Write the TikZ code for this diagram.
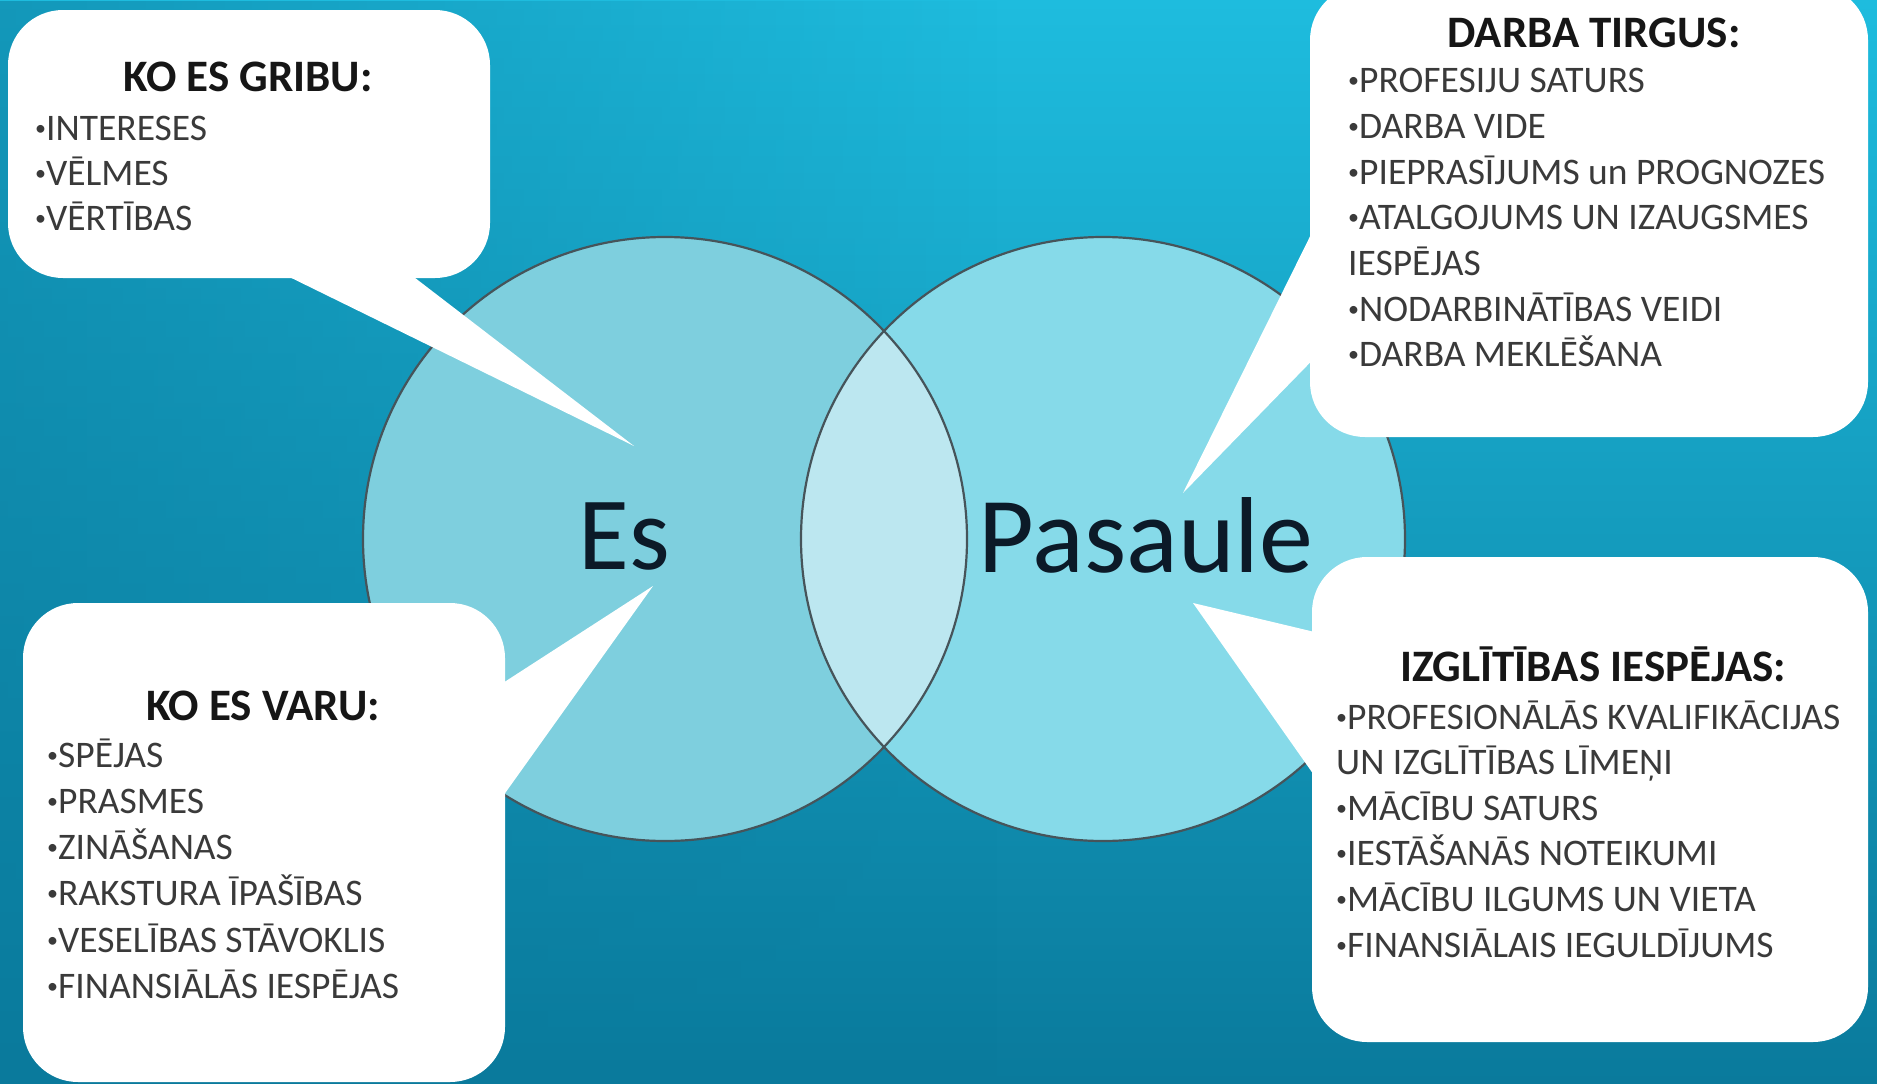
\documentclass[tikz,border=0pt]{standalone}
\usepackage{fontspec}
\setmainfont{Carlito}
\usetikzlibrary{positioning,fadings}

\definecolor{sfondoTop}{RGB}{30,188,222}
\definecolor{sfondoBot}{RGB}{10,122,156}
\definecolor{cerchioSx}{RGB}{126,207,222}
\definecolor{cerchioDx}{RGB}{134,218,233}
\definecolor{lente}{RGB}{188,231,240}
\definecolor{bordo}{RGB}{70,84,90}
\definecolor{grigio}{RGB}{58,58,58}
\definecolor{titolo}{RGB}{22,22,22}
\definecolor{scritta}{RGB}{12,26,40}

\tikzfading[name=sfumaSx, left color=transparent!0, right color=transparent!100]
\newcommand\punto{\raisebox{5pt}{\fontsize{22}{22}\selectfont•}}

\tikzset{
	fumetto/.style={fill=white, rounded corners=55pt, inner sep=0pt},
	testata/.style={font=\bfseries\fontsize{45}{45}\selectfont, text=titolo, anchor=base, inner sep=0pt},
	elenco/.style={font=\fontsize{37.5}{37.5}\selectfont, text=grigio, anchor=base west, inner sep=0pt},
	grande/.style={font=\fontsize{104}{104}\selectfont, text=scritta, anchor=base, inner sep=0pt}
}

\begin{document}
\begin{tikzpicture}[x=1pt,y=-1pt]
		\useasboundingbox (0,0) rectangle (1877,1084);
		\clip (0,0) rectangle (1877,1084);
		% sfondo
		\shade[top color=sfondoTop, bottom color=sfondoBot] (0,0) rectangle (1877,1084);
		\fill[sfondoBot, path fading=sfumaSx, opacity=0.55] (0,0) rectangle (1000,1084);
		% cerchi
		\fill[cerchioSx] (665,539) circle (302);
		\fill[cerchioDx] (1103,539) circle (302);
		\begin{scope}
			\clip (665,539) circle (302);
			\fill[lente] (1103,539) circle (302);
		\end{scope}
		\draw[bordo, line width=2.2pt] (665,539) circle (302);
		\draw[bordo, line width=2.2pt] (1103,539) circle (302);
		\node[grande] (es) at (624,569) {Es};
		\node[grande, font=\fontsize{108}{108}\selectfont] (pasaule) at (1146,572) {Pasaule};
		% punte dei fumetti
		\coordinate (puntaGribu) at (634,446);
		\coordinate (puntaVaru) at (653,586);
		\coordinate (puntaTirgus) at (1183,493);
		\coordinate (puntaIzgl) at (1193,603);
		% fumetti
		\node[fumetto, minimum width=482pt, minimum height=268pt] (gribu) at (249,144) {};
		\fill[white] ([xshift=280pt,yshift=2pt]gribu.south west) -- (puntaGribu) -- ([xshift=405pt,yshift=2pt]gribu.south west) -- cycle;
		\node[fumetto, minimum width=482pt, minimum height=479pt] (varu) at (264,842.5) {};
		\fill[white] ([xshift=-2pt,yshift=-80pt]varu.north east) -- (puntaVaru) -- ([xshift=-2pt,yshift=-193pt]varu.north east) -- cycle;
		\node[fumetto, minimum width=558pt, minimum height=452pt] (tirgus) at (1589,211) {};
		\fill[white] ([xshift=2pt,yshift=-248pt]tirgus.north west) -- (puntaTirgus) -- ([xshift=2pt,yshift=-376pt]tirgus.north west) -- cycle;
		\node[fumetto, minimum width=556pt, minimum height=485pt] (izgl) at (1590,799.5) {};
		\fill[white] ([xshift=2pt,yshift=-75pt]izgl.north west) -- (puntaIzgl) -- ([xshift=2pt,yshift=-218pt]izgl.north west) -- cycle;
		% testi
		\node[testata] (tGribu) at (248,91) {KO ES GRIBU:};
		\foreach \v [count=\i] in {\punto INTERESES,\punto VĒLMES,\punto VĒRTĪBAS}
			\node[elenco] (gribu-\i) at (35,95+45*\i) {\v};
		\node[testata] (tVaru) at (263,720) {KO ES VARU:};
		\foreach \v [count=\i] in {\punto SPĒJAS,\punto PRASMES,\punto ZINĀŠANAS,\punto RAKSTURA ĪPAŠĪBAS,\punto VESELĪBAS STĀVOKLIS,\punto FINANSIĀLĀS IESPĒJAS}
			\node[elenco] (varu-\i) at (47,720.7+46.3*\i) {\v};
		\node[testata] (tTirgus) at (1594,47) {DARBA TIRGUS:};
		\foreach \v [count=\i] in {\punto PROFESIJU SATURS,\punto DARBA VIDE,\punto PIEPRASĪJUMS un PROGNOZES,\punto ATALGOJUMS UN IZAUGSMES,IESPĒJAS,\punto NODARBINĀTĪBAS VEIDI,\punto DARBA MEKLĒŠANA}
			\node[elenco] (tirgus-\i) at (1348,47.3+45.67*\i) {\v};
		\node[testata] (tIzgl) at (1593,681) {IZGLĪTĪBAS IESPĒJAS:};
		\foreach \v [count=\i] in {\punto PROFESIONĀLĀS KVALIFIKĀCIJAS,UN IZGLĪTĪBAS LĪMEŅI,\punto MĀCĪBU SATURS,\punto IESTĀŠANĀS NOTEIKUMI,\punto MĀCĪBU ILGUMS UN VIETA,\punto FINANSIĀLAIS IEGULDĪJUMS}
			\node[elenco] (izgl-\i) at (1336,683.4+45.6*\i) {\v};
	\end{tikzpicture}
\end{document}
